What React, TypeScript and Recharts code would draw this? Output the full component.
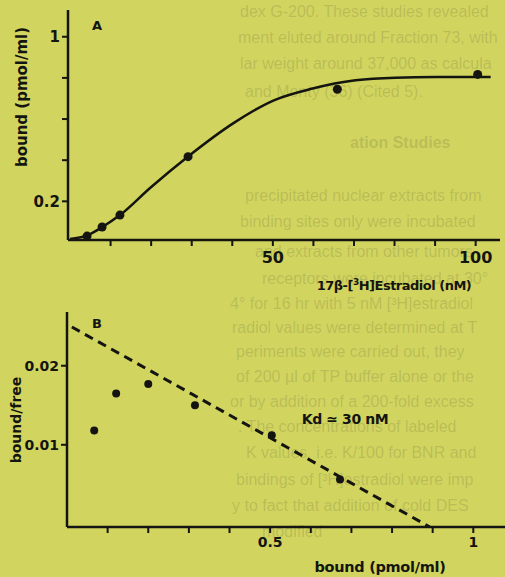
import React from 'react';
import { ComposedChart, Line, Scatter, XAxis, YAxis } from 'recharts';

// Panel A: saturation of binding sites
const curveConc = [0, 4.1, 7.8, 12.3, 19.8, 29.1, 40.2, 50.4, 59.8, 70.4, 80.2, 90.1, 103.7];
const curveBound = [0.017, 0.033, 0.073, 0.133, 0.266, 0.418, 0.579, 0.692, 0.748, 0.788, 0.801, 0.804, 0.804];
const pointConc = [4.2, 7.9, 12.3, 29.1, 65.9, 100.5];
const pointBound = [0.031, 0.075, 0.133, 0.417, 0.745, 0.817];
const concTicks = [10, 20, 30, 40, 50, 60, 70, 80, 90, 100];
const concLabels = ['50', '100'];
const boundTicksA = [0.2, 0.4, 0.6, 0.8, 1];
const boundLabelsA = ['0.2', '1'];

// Panel B: Scatchard plot
const scatBound = [0.067, 0.121, 0.2, 0.315, 0.504, 0.672];
const scatRatio = [0.0118, 0.0165, 0.0177, 0.015, 0.0112, 0.0056];
const fitBound = [0.012, 0.893];
const fitRatio = [0.0249, -0.0004];
const boundTicksB = [0.1, 0.2, 0.3, 0.4, 0.5, 0.6, 0.7, 0.8, 0.9, 1];
const boundLabelsB = ['0.5', '1'];
const ratioTicks = [0.01, 0.02];
const ratioLabels = ['0.01', '0.02'];

// faint text showing through from the page behind
const bgLines = [
  'dex G-200. These studies revealed',
  'ment eluted around Fraction 73, with',
  'lar weight around 37,000 as calcula',
  'and Monty (36) (Cited 5).',
  'ation Studies',
  'precipitated nuclear extracts from',
  'binding sites only were incubated',
  'and extracts from other tumors',
  'receptors were incubated at 30°',
  '4° for 16 hr with 5 nM [³H]estradiol',
  'radiol values were determined at T',
  'periments were carried out, they',
  'of 200 µl of TP buffer alone or the',
  'or by addition of a 200-fold excess',
  '. The concentrations of labeled',
  'K values, i.e. K/100 for BNR and',
  'bindings of [³H]estradiol were imp',
  'y to fact that addition of cold DES',
  'modified',
];
const bgY = [12, 38, 64, 92, 143, 196, 222, 252, 279, 304, 328, 352, 377, 402, 427, 453, 480, 506, 532];
const bgX = [240, 238, 240, 245, 350, 245, 240, 255, 262, 230, 232, 236, 236, 230, 238, 246, 236, 232, 262];

const FONT = '"DejaVu Sans", sans-serif';
const INK = '#141410';

const curveData = curveConc.map((x, i) => ({ x, y: curveBound[i] }));
const pointsA = pointConc.map((x, i) => ({ x, y: pointBound[i] }));
const pointsB = scatBound.map((x, i) => ({ x, y: scatRatio[i] }));
const fitData = fitBound.map((x, i) => ({ x, y: fitRatio[i] }));

const dot = (r: number) => (p: any) => <circle cx={p.cx} cy={p.cy} r={r} fill={INK} />;

const only = (labels: string[]) => (v: number) => {
  const s = String(Math.round(v * 1000) / 1000);
  return labels.includes(s) ? s : '';
};

const tickStyle = (size: number) => ({ fill: INK, fontSize: size, fontWeight: 700, fontFamily: FONT });

const abs = (left: number, top: number, extra: React.CSSProperties = {}): React.CSSProperties => ({
  position: 'absolute',
  left,
  top,
  transform: 'translate(-50%, -50%)',
  whiteSpace: 'nowrap',
  fontFamily: FONT,
  fontWeight: 700,
  color: INK,
  ...extra,
});

export default function App() {
  return (
    <div style={{ position: 'absolute', left: 0, top: 0, width: 505, height: 577, background: '#d1d45e', overflow: 'hidden' }}>
      {bgLines.map((t, i) => (
        <div
          key={i}
          style={{
            position: 'absolute',
            left: bgX[i],
            top: bgY[i] - 9,
            fontFamily: '"Liberation Sans", sans-serif',
            fontSize: 16,
            fontWeight: i === 4 ? 700 : 400,
            color: 'rgba(60, 60, 50, 0.17)',
            whiteSpace: 'nowrap',
          }}
        >
          {t}
        </div>
      ))}

      <div style={{ position: 'absolute', left: 0, top: 0 }}>
        <ComposedChart width={505} height={290} data={curveData} margin={{ top: 10, right: 5, bottom: 0, left: 0 }}>
          <XAxis
            type="number"
            dataKey="x"
            domain={[-0.5, 106]}
            allowDataOverflow
            ticks={concTicks}
            tickFormatter={only(concLabels)}
            height={50}
            tickSize={6}
            tickMargin={6}
            axisLine={{ stroke: INK, strokeWidth: 2.5 }}
            tickLine={{ stroke: INK, strokeWidth: 2 }}
            tick={tickStyle(16)}
          />
          <YAxis
            type="number"
            dataKey="y"
            domain={[0.012, 1.13]}
            allowDataOverflow
            ticks={boundTicksA}
            tickFormatter={only(boundLabelsA)}
            width={68}
            tickSize={6}
            tickMargin={2}
            axisLine={{ stroke: INK, strokeWidth: 2.5 }}
            tickLine={{ stroke: INK, strokeWidth: 2 }}
            tick={tickStyle(15)}
          />
          <Line type="monotone" dataKey="y" stroke={INK} strokeWidth={2.5} dot={false} isAnimationActive={false} />
          <Scatter data={pointsA} dataKey="y" shape={dot(4.5)} isAnimationActive={false} />
        </ComposedChart>
      </div>

      <div style={{ position: 'absolute', left: 0, top: 290 }}>
        <ComposedChart width={505} height={287} margin={{ top: 22, right: 0, bottom: 0, left: 0 }}>
          <XAxis
            type="number"
            dataKey="x"
            domain={[0, 1.078]}
            allowDataOverflow
            ticks={boundTicksB}
            tickFormatter={only(boundLabelsB)}
            height={50}
            tickSize={6}
            tickMargin={4}
            axisLine={{ stroke: INK, strokeWidth: 2.5 }}
            tickLine={{ stroke: INK, strokeWidth: 2 }}
            tick={tickStyle(14)}
          />
          <YAxis
            type="number"
            dataKey="y"
            domain={[-0.0004, 0.0268]}
            allowDataOverflow
            ticks={ratioTicks}
            tickFormatter={only(ratioLabels)}
            width={67}
            tickSize={6}
            tickMargin={2}
            axisLine={{ stroke: INK, strokeWidth: 2.5 }}
            tickLine={{ stroke: INK, strokeWidth: 2 }}
            tick={tickStyle(14)}
          />
          <Line
            data={fitData}
            type="linear"
            dataKey="y"
            stroke={INK}
            strokeWidth={3}
            strokeDasharray="9 6"
            dot={false}
            isAnimationActive={false}
          />
          <Scatter data={pointsB} dataKey="y" shape={dot(4)} isAnimationActive={false} />
        </ComposedChart>
      </div>

      <div style={abs(97, 25, { fontSize: 13 })}>A</div>
      <div style={abs(22, 97, { fontSize: 15, transform: 'translate(-50%, -50%) rotate(-90deg)' })}>bound (pmol/ml)</div>
      <div style={abs(394, 285, { fontSize: 13, letterSpacing: -0.5 })}>
        17β-[<sup style={{ fontSize: 9 }}>3</sup>H]Estradiol (nM)
      </div>

      <div style={abs(97, 323, { fontSize: 13 })}>B</div>
      <div style={abs(16, 420, { fontSize: 14, transform: 'translate(-50%, -50%) rotate(-90deg)' })}>bound/free</div>
      <div style={abs(345, 419, { fontSize: 14, letterSpacing: -0.4 })}>Kd ≃ 30 nM</div>
      <div style={abs(380, 567, { fontSize: 14.5, letterSpacing: -0.3 })}>bound (pmol/ml)</div>
    </div>
  );
}
